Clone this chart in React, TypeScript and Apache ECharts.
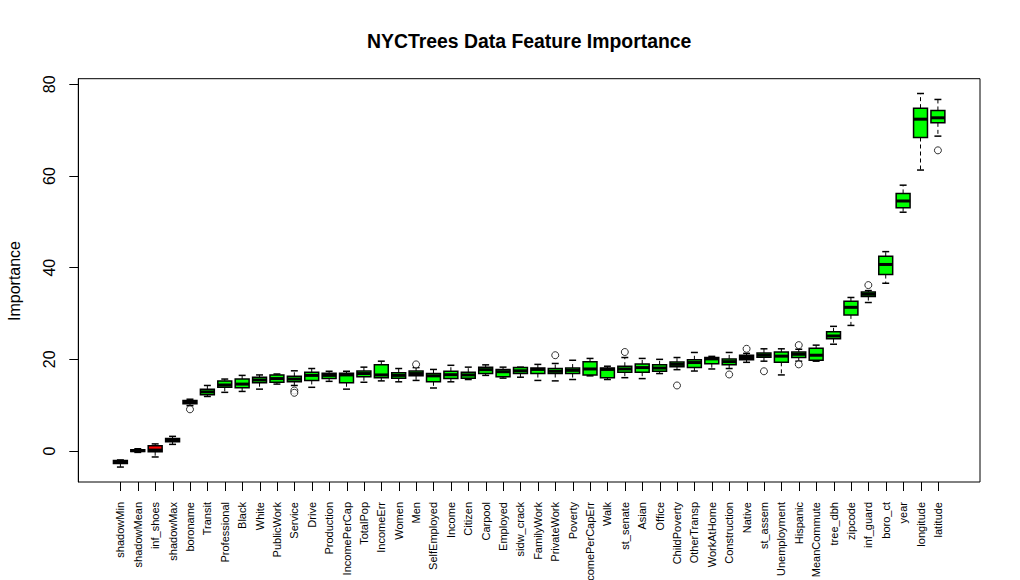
import React, { useEffect, useRef } from 'react'
import * as echarts from 'echarts'

const features = [
  'shadowMin', 'shadowMean', 'inf_shoes', 'shadowMax', 'boroname', 'Transit', 'Professional', 'Black',
  'White', 'PublicWork', 'Service', 'Drive', 'Production', 'IncomePerCap', 'TotalPop', 'IncomeErr',
  'Women', 'Men', 'SelfEmployed', 'Income', 'Citizen', 'Carpool', 'Employed', 'sidw_crack',
  'FamilyWork', 'PrivateWork', 'Poverty', 'IncomePerCapErr', 'Walk', 'st_senate', 'Asian', 'Office',
  'ChildPoverty', 'OtherTransp', 'WorkAtHome', 'Construction', 'Native', 'st_assem', 'Unemployment', 'Hispanic',
  'MeanCommute', 'tree_dbh', 'zipcode', 'inf_guard', 'boro_ct', 'year', 'longitude', 'latitude',
]

const whiskerLow = [
  -3.5, -0.3, -1.3, 1.45, 9.9, 11.9, 12.8, 13.0,
  13.5, 14.6, 14.3, 13.9, 15.2, 13.5, 15.0, 15.3,
  15.1, 15.4, 13.75, 15.1, 15.6, 16.5, 15.9, 16.1,
  15.4, 15.3, 15.6, 16.4, 15.6, 16.0, 15.8, 16.9,
  17.75, 17.45, 17.9, 18.0, 19.35, 19.6, 16.6, 19.6,
  19.6, 23.3, 27.4, 32.4, 36.6, 52.1, 61.3, 68.7,
]
const boxQ1 = [
  -2.75, -0.1, -0.15, 2.0, 10.3, 12.3, 13.9, 13.8,
  14.9, 15.0, 15.1, 15.4, 15.8, 14.9, 16.2, 16.0,
  15.9, 16.4, 15.1, 15.8, 15.9, 16.9, 16.2, 16.9,
  16.9, 16.9, 16.9, 16.6, 16.0, 17.2, 17.2, 17.4,
  18.4, 18.2, 19.05, 18.8, 19.9, 20.45, 19.35, 20.4,
  19.8, 24.5, 29.7, 33.7, 38.5, 53.1, 68.4, 71.6,
]
const boxMedian = [
  -2.4, 0.1, 0.2, 2.3, 10.6, 12.9, 14.4, 14.6,
  15.5, 15.8, 15.7, 16.5, 16.5, 16.6, 16.9, 16.6,
  16.5, 16.9, 16.4, 16.65, 16.6, 17.75, 17.3, 17.5,
  17.8, 17.4, 17.6, 17.9, 17.8, 17.9, 18.2, 18.1,
  18.9, 19.3, 20.1, 19.5, 20.4, 20.9, 20.7, 21.1,
  20.9, 25.1, 31.35, 34.2, 40.7, 54.55, 72.4, 72.7,
]
const boxQ3 = [
  -2.05, 0.3, 1.15, 2.75, 11.0, 13.5, 15.3, 15.7,
  16.1, 16.6, 16.3, 17.2, 16.95, 16.95, 17.45, 18.8,
  17.1, 17.45, 16.9, 17.4, 17.2, 18.3, 17.8, 18.2,
  18.1, 18.0, 18.1, 19.5, 18.1, 18.5, 19.0, 18.8,
  19.4, 19.9, 20.4, 20.1, 20.9, 21.4, 21.6, 21.6,
  22.4, 26.0, 32.7, 34.7, 42.5, 56.2, 74.8, 74.3,
]
const whiskerHigh = [
  -1.95, 0.5, 1.55, 3.2, 11.3, 14.3, 15.7, 16.5,
  16.6, 16.8, 17.5, 18.0, 17.4, 17.4, 18.3, 19.6,
  18.0, 18.2, 17.8, 18.7, 18.3, 18.8, 18.3, 18.3,
  18.9, 19.1, 19.8, 20.2, 18.5, 20.4, 20.2, 20.0,
  20.4, 21.5, 20.65, 21.5, 21.3, 22.3, 22.3, 22.2,
  23.1, 27.2, 33.5, 35.0, 43.5, 58.0, 78.0, 76.7,
]

// outliers: [feature, value]
const outliers: Array<[string, number]> = [
  ['boroname', 9.1],
  ['Service', 13.2],
  ['Service', 12.7],
  ['Men', 18.9],
  ['PrivateWork', 20.9],
  ['st_senate', 21.6],
  ['ChildPoverty', 14.3],
  ['Construction', 16.7],
  ['Native', 22.3],
  ['st_assem', 17.4],
  ['Hispanic', 23.1],
  ['Hispanic', 18.9],
  ['inf_guard', 36.2],
  ['latitude', 65.6],
]

const shadowFeatures = ['shadowMin', 'shadowMean', 'shadowMax']
const rejectedFeatures = ['inf_shoes']

const yTicks = [0, 20, 40, 60, 80]

const FONT = '"Liberation Sans", Arial, sans-serif'

// plot frame (R box) in page pixels
const FRAME = { left: 78.3, top: 78.7, right: 980, bottom: 482 }
const TICK_LEN = 9

const App: React.FC = () => {
  const chartRef = useRef<HTMLDivElement>(null)

  useEffect(() => {
    if (!chartRef.current) return
    const chart = echarts.init(chartRef.current, null, { renderer: 'svg' })

    // R pads the x range by 4% each side: xlim = (0.5, n + 0.5) widened by 0.04 * n
    const n = features.length
    const pad = 0.04 * n
    const unit = (FRAME.right - FRAME.left) / (n + 2 * pad)
    const gridLeft = FRAME.left + pad * unit
    const gridWidth = n * unit
    const gridRight = 1020 - gridLeft - gridWidth
    const yOffset = gridLeft - FRAME.left

    const boxData = features.map((f, i) => [i, whiskerLow[i], boxQ1[i], boxMedian[i], boxQ3[i], whiskerHigh[i]])
    const outlierData = outliers.map(([f, v]) => [features.indexOf(f), v])

    const fillFor = (i: number) => {
      const f = features[i]
      if (shadowFeatures.includes(f)) return '#0000FF'
      if (rejectedFeatures.includes(f)) return '#FF0000'
      return '#00FF00'
    }

    const option = {
      animation: false,
      grid: {
        left: gridLeft,
        right: gridRight,
        top: FRAME.top,
        bottom: 580 - FRAME.bottom,
        containLabel: false,
        outerBoundsMode: 'none',
      },
      xAxis: {
        type: 'category',
        data: features,
        boundaryGap: true,
        axisLine: { show: false, onZero: false },
        axisTick: { show: false },
        axisLabel: {
          interval: 0,
          rotate: 90,
          margin: 20,
          color: '#000',
          fontSize: 11,
          fontFamily: FONT,
        },
        splitLine: { show: false },
      },
      yAxis: {
        type: 'value',
        min: -6.76,
        max: 81.23,
        offset: yOffset,
        axisLine: { show: true, onZero: false, lineStyle: { color: '#000', width: 1 } },
        axisTick: {
          show: true,
          length: TICK_LEN,
          customValues: yTicks,
          lineStyle: { color: '#000', width: 1 },
        },
        axisLabel: {
          rotate: 90,
          margin: 21,
          color: '#000',
          fontSize: 16,
          fontFamily: FONT,
          customValues: yTicks,
        },
        splitLine: { show: false },
      },
      graphic: [
        {
          type: 'rect',
          silent: true,
          shape: {
            x: FRAME.left,
            y: FRAME.top,
            width: FRAME.right - FRAME.left,
            height: FRAME.bottom - FRAME.top,
          },
          style: { fill: 'none', stroke: '#000', lineWidth: 1 },
          z: 100,
        },
        {
          type: 'text',
          x: (FRAME.left + FRAME.right) / 2,
          y: 41,
          style: {
            text: 'NYCTrees Data Feature Importance',
            fontSize: 19.4,
            fontWeight: 'bold',
            fontFamily: FONT,
            fill: '#000',
            textAlign: 'center',
            textVerticalAlign: 'middle',
          },
        },
        {
          type: 'text',
          x: 14,
          y: 281,
          rotation: Math.PI / 2,
          style: {
            text: 'Importance',
            fontSize: 16,
            fontFamily: FONT,
            fill: '#000',
            textAlign: 'center',
            textVerticalAlign: 'middle',
          },
        },
      ],
      series: [
        {
          type: 'custom',
          data: boxData,
          clip: false,
          encode: { x: 0, y: [1, 2, 3, 4, 5] },
          renderItem: (params: any, api: any) => {
            const idx = api.value(0)
            const [x, yLow] = api.coord([idx, api.value(1)])
            const yQ1 = api.coord([idx, api.value(2)])[1]
            const yMed = api.coord([idx, api.value(3)])[1]
            const yQ3 = api.coord([idx, api.value(4)])[1]
            const yHigh = api.coord([idx, api.value(5)])[1]
            const band = api.size([1, 0])[0]
            const halfBox = band * 0.4
            const halfCap = halfBox / 2
            // x-axis tick, hung below the bottom of the value range (crisp 1px column)
            const yAxisBottom = Math.round(api.coord([idx, -6.76])[1])
            const whiskerStyle = { stroke: '#000', lineWidth: 1, lineDash: [4, 3] }
            const capStyle = { stroke: '#000', lineWidth: 1.5 }
            return {
              type: 'group',
              children: [
                {
                  type: 'rect',
                  shape: { x: Math.round(x), y: yAxisBottom, width: 1, height: TICK_LEN },
                  style: { fill: '#000' },
                },
                { type: 'line', shape: { x1: x, y1: yQ3, x2: x, y2: yHigh }, style: whiskerStyle },
                { type: 'line', shape: { x1: x, y1: yQ1, x2: x, y2: yLow }, style: whiskerStyle },
                { type: 'line', shape: { x1: x - halfCap, y1: yHigh, x2: x + halfCap, y2: yHigh }, style: capStyle },
                { type: 'line', shape: { x1: x - halfCap, y1: yLow, x2: x + halfCap, y2: yLow }, style: capStyle },
                {
                  type: 'rect',
                  shape: { x: x - halfBox, y: yQ3, width: halfBox * 2, height: yQ1 - yQ3 },
                  style: { fill: fillFor(idx), stroke: '#000', lineWidth: 1.5 },
                },
                {
                  type: 'line',
                  shape: { x1: x - halfBox, y1: yMed, x2: x + halfBox, y2: yMed },
                  style: { stroke: '#000', lineWidth: 3 },
                },
              ],
            }
          },
          z: 2,
        },
        {
          type: 'scatter',
          data: outlierData,
          symbol: 'circle',
          symbolSize: 7,
          itemStyle: { color: '#fff', borderColor: '#000', borderWidth: 1 },
          z: 3,
        },
      ],
    }

    chart.setOption(option as any)

    return () => {
      chart.dispose()
    }
  }, [])

  return (
    <div
      ref={chartRef}
      style={{
        position: 'absolute',
        left: 0,
        top: 0,
        width: 1020,
        height: 580,
        background: '#fff',
      }}
    />
  )
}

export default App
